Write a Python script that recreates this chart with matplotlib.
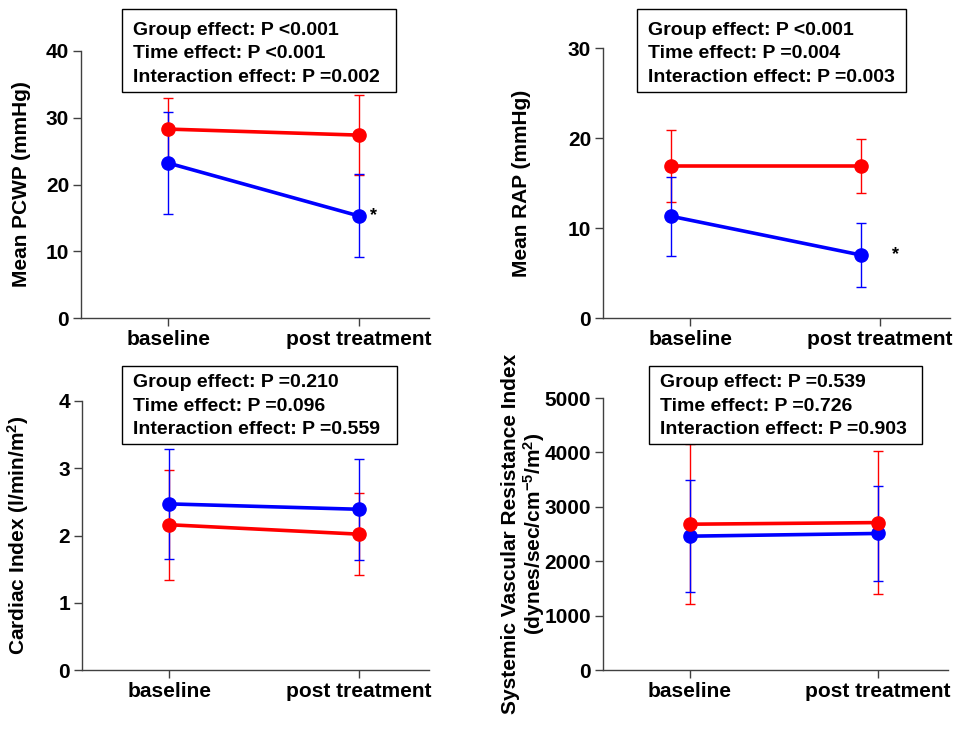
import matplotlib.pyplot as plt
from matplotlib.patches import Rectangle

# ========================
# DATA  (mean and SD at baseline / post treatment)
# ========================
time_points = ["baseline", "post treatment"]

pcwp_red = [28.3, 27.4]
pcwp_red_sd = [4.6, 6.0]
pcwp_blue = [23.2, 15.3]
pcwp_blue_sd = [7.6, 6.2]

rap_red = [16.9, 16.9]
rap_red_sd = [4.0, 3.0]
rap_blue = [11.3, 7.0]
rap_blue_sd = [4.4, 3.6]

ci_red = [2.16, 2.02]
ci_red_sd = [0.82, 0.61]
ci_blue = [2.47, 2.39]
ci_blue_sd = [0.82, 0.75]

svri_red = [2680, 2710]
svri_red_sd = [1470, 1320]
svri_blue = [2460, 2510]
svri_blue_sd = [1030, 880]

pcwp_stats = ["Group effect: P <0.001", "Time effect: P <0.001", "Interaction effect: P =0.002"]
rap_stats = ["Group effect: P <0.001", "Time effect: P =0.004", "Interaction effect: P =0.003"]
ci_stats = ["Group effect: P =0.210", "Time effect: P =0.096", "Interaction effect: P =0.559"]
svri_stats = ["Group effect: P =0.539", "Time effect: P =0.726", "Interaction effect: P =0.903"]

ylabels = [
    "Mean PCWP (mmHg)",
    "Mean RAP (mmHg)",
    "Cardiac Index (l/min/m$^2$)",
    "Systemic Vascular Resistance Index\n(dynes/sec/cm$^{-5}$/m$^2$)",
]
y_max = [40, 30, 4, 5000]
y_step = [10, 10, 1, 1000]
post_signif = [True, True, False, False]

# ========================
# LAYOUT (pixels)
# ========================
W, H = 964, 730
RED = "#ff0000"
BLUE = "#0000ff"
# axes: left, top, right, bottom
axes_px = [(81, 51, 429, 318), (603, 48, 950, 318), (82, 401, 429, 670), (603, 398, 948, 670)]
# stats box: left, top, right, bottom
box_px = [(122, 9, 396, 92), (637, 9, 906, 92), (122, 366, 397, 444), (649, 366, 922, 444)]
label_x_px = [31, 531, 31, 547]
x_shift = [0.0, -0.1, 0.0, 0.0]
XLIM = (-0.46, 1.37)

plt.rcParams["font.family"] = ["Liberation Sans", "DejaVu Sans"]
plt.rcParams["font.weight"] = "bold"
plt.rcParams["mathtext.fontset"] = "custom"
for k in ["rm", "it", "bf", "sf"]:
    plt.rcParams["mathtext." + k] = "Liberation Sans:bold"

fig = plt.figure(figsize=(W / 100, H / 100), dpi=100)


def px_axes(left, top, right, bottom):
    return fig.add_axes([left / W, 1 - bottom / H, (right - left) / W, (bottom - top) / H])


panels = [
    (pcwp_red, pcwp_red_sd, pcwp_blue, pcwp_blue_sd, pcwp_stats),
    (rap_red, rap_red_sd, rap_blue, rap_blue_sd, rap_stats),
    (ci_red, ci_red_sd, ci_blue, ci_blue_sd, ci_stats),
    (svri_red, svri_red_sd, svri_blue, svri_blue_sd, svri_stats),
]

for i, (red, red_sd, blue, blue_sd, stats) in enumerate(panels):
    ax = px_axes(*axes_px[i])
    x = [k + x_shift[i] for k in range(len(time_points))]

    # error bars first, then lines + markers on top
    for m, sd, c in [(red, red_sd, RED), (blue, blue_sd, BLUE)]:
        ax.errorbar(x, m, yerr=sd, fmt="none", ecolor=c, elinewidth=1.0,
                    capsize=3.5, capthick=1.0, zorder=2)
    for m, c in [(blue, BLUE), (red, RED)]:
        ax.plot(x, m, color=c, lw=2.6, marker="o", markersize=9.5, zorder=3)

    if post_signif[i]:
        ax.text(1.08, blue[1], "*", fontsize=13, ha="center", va="center")

    ax.set_xlim(*XLIM)
    ax.set_ylim(0, y_max[i])
    ax.set_yticks(range(0, y_max[i] + 1, y_step[i]))
    ax.set_xticks(range(len(time_points)))
    ax.set_xticklabels(time_points)
    for s in ["top", "right"]:
        ax.spines[s].set_visible(False)
    for s in ["left", "bottom"]:
        ax.spines[s].set_color("#404040")
        ax.spines[s].set_linewidth(1.0)
    ax.tick_params(direction="out", length=5.5, width=1.0, color="#404040",
                   labelsize=15, pad=3)

    ax.set_ylabel(ylabels[i], fontsize=15, fontweight="bold", linespacing=1.05)
    l, t, r, b = axes_px[i]
    ax.yaxis.set_label_coords((label_x_px[i] - l) / (r - l), 0.5)

    # stats box
    bl, bt, br, bb = box_px[i]
    fig.add_artist(Rectangle((bl / W, 1 - bb / H), (br - bl) / W, (bb - bt) / H,
                             transform=fig.transFigure, fc="white", ec="black",
                             lw=1.0, zorder=5))
    for j, s in enumerate(stats):
        base = bb - 10 - (2 - j) * 23.5
        fig.text((bl + 11) / W, 1 - base / H, s, fontsize=14, fontweight="bold",
                 va="baseline", ha="left", zorder=6)

fig.savefig("out.png", dpi=100)
